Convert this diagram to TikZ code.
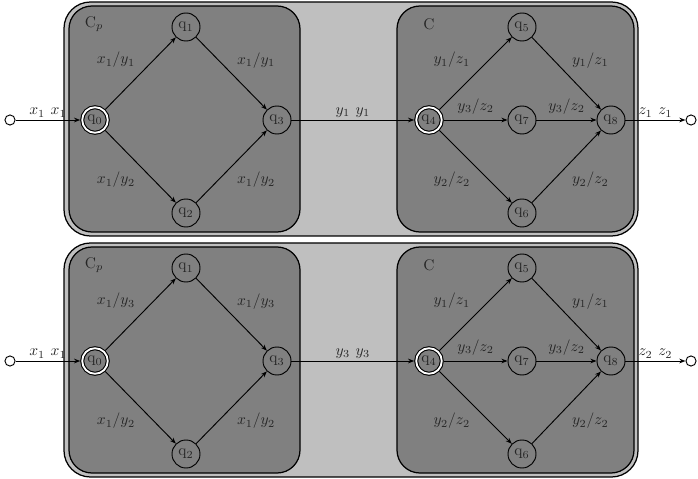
\documentclass[tikz,border=0pt]{standalone}
\usetikzlibrary{positioning,arrows.meta}

\begin{document}
\begin{tikzpicture}[
	x=0.0227cm, y=-0.0227cm,
	panel/.style={
		draw,
		thick,
		fill=black!25,
		rounded corners=0.6cm
	},
	box/.style={
		draw,
		thick,
		fill=black!50,
		rounded corners=0.52cm
	},
	stnode/.style={
		circle,
		draw,
		semithick,
		fill=black!50,
		minimum size=0.636cm,
		inner sep=0pt,
		text=black!85
	},
	initnode/.style={
		stnode,
		line width=0.7pt,
		double=white,
		double distance=1.2pt,
		minimum size=0.58cm,
		outer sep=1.3pt
	},
	endpoint/.style={circle,draw,semithick,fill=white,minimum size=0.23cm,inner sep=0pt},
	lbl/.style={text=black!85},
	iolbl/.style={text=black!85,inner sep=1.5pt},
	arrow/.style={-{Stealth[length=4pt,width=3pt]},semithick}
	]
	
	\useasboundingbox (0,0) rectangle (698,479);
	
	% upper composition
	\draw[panel] (64,2) rectangle (638,236);
	\draw[box] (69,6) rectangle (300,232);
	\draw[box] (397,6) rectangle (634,232);
	\node[lbl] (cpa) at (94,24) {$\mathrm{C}_p$};
	\node[lbl] (ca) at (429,24) {$\mathrm{C}$};
	
	\node[endpoint] (ina) at (10,120) {};
	\node[initnode] (q0a) at (95,120) {$\mathrm{q}_0$};
	\node[stnode] (q1a) at (186,27) {$\mathrm{q}_1$};
	\node[stnode] (q2a) at (186,213) {$\mathrm{q}_2$};
	\node[stnode] (q3a) at (277,120) {$\mathrm{q}_3$};
	\node[initnode] (q4a) at (429,120) {$\mathrm{q}_4$};
	\node[stnode] (q5a) at (522,27) {$\mathrm{q}_5$};
	\node[stnode] (q6a) at (522,213) {$\mathrm{q}_6$};
	\node[stnode] (q7a) at (522,120) {$\mathrm{q}_7$};
	\node[stnode] (q8a) at (611,120) {$\mathrm{q}_8$};
	\node[endpoint] (outa) at (691,120) {};
	
	\draw[arrow] (ina)--node[iolbl,above left] {$x_1$} node[iolbl,above right] {$x_1$} (q0a);
	\draw[arrow] (q0a)--node[lbl,above left] {$x_1/y_1$} (q1a);
	\draw[arrow] (q0a)--node[lbl,below left] {$x_1/y_2$} (q2a);
	\draw[arrow] (q1a)--node[lbl,above right] {$x_1/y_1$} (q3a);
	\draw[arrow] (q2a)--node[lbl,below right] {$x_1/y_2$} (q3a);
	\draw[arrow] (q3a)--node[iolbl,above left] {$y_1$} node[iolbl,above right] {$y_1$} (q4a);
	\draw[arrow] (q4a)--node[lbl,above left] {$y_1/z_1$} (q5a);
	\draw[arrow] (q4a)--node[lbl,above] {$y_3/z_2$} (q7a);
	\draw[arrow] (q4a)--node[lbl,below left] {$y_2/z_2$} (q6a);
	\draw[arrow] (q5a)--node[lbl,above right] {$y_1/z_1$} (q8a);
	\draw[arrow] (q7a)--node[lbl,above] {$y_3/z_2$} (q8a);
	\draw[arrow] (q6a)--node[lbl,below right] {$y_2/z_2$} (q8a);
	\draw[arrow] (q8a)--node[iolbl,above left] {$z_1$} node[iolbl,above right] {$z_1$} (outa);
	
	% lower composition
	\begin{scope}[shift={(0,241)}]
		\draw[panel] (64,2) rectangle (638,236);
		\draw[box] (69,6) rectangle (300,232);
		\draw[box] (397,6) rectangle (634,232);
		\node[lbl] (cpb) at (94,24) {$\mathrm{C}_p$};
		\node[lbl] (cb) at (429,24) {$\mathrm{C}$};
		
		\node[endpoint] (inb) at (10,120) {};
		\node[initnode] (q0b) at (95,120) {$\mathrm{q}_0$};
		\node[stnode] (q1b) at (186,27) {$\mathrm{q}_1$};
		\node[stnode] (q2b) at (186,213) {$\mathrm{q}_2$};
		\node[stnode] (q3b) at (277,120) {$\mathrm{q}_3$};
		\node[initnode] (q4b) at (429,120) {$\mathrm{q}_4$};
		\node[stnode] (q5b) at (522,27) {$\mathrm{q}_5$};
		\node[stnode] (q6b) at (522,213) {$\mathrm{q}_6$};
		\node[stnode] (q7b) at (522,120) {$\mathrm{q}_7$};
		\node[stnode] (q8b) at (611,120) {$\mathrm{q}_8$};
		\node[endpoint] (outb) at (691,120) {};
		
		\draw[arrow] (inb)--node[iolbl,above left] {$x_1$} node[iolbl,above right] {$x_1$} (q0b);
		\draw[arrow] (q0b)--node[lbl,above left] {$x_1/y_3$} (q1b);
		\draw[arrow] (q0b)--node[lbl,below left] {$x_1/y_2$} (q2b);
		\draw[arrow] (q1b)--node[lbl,above right] {$x_1/y_3$} (q3b);
		\draw[arrow] (q2b)--node[lbl,below right] {$x_1/y_2$} (q3b);
		\draw[arrow] (q3b)--node[iolbl,above left] {$y_3$} node[iolbl,above right] {$y_3$} (q4b);
		\draw[arrow] (q4b)--node[lbl,above left] {$y_1/z_1$} (q5b);
		\draw[arrow] (q4b)--node[lbl,above] {$y_3/z_2$} (q7b);
		\draw[arrow] (q4b)--node[lbl,below left] {$y_2/z_2$} (q6b);
		\draw[arrow] (q5b)--node[lbl,above right] {$y_1/z_1$} (q8b);
		\draw[arrow] (q7b)--node[lbl,above] {$y_3/z_2$} (q8b);
		\draw[arrow] (q6b)--node[lbl,below right] {$y_2/z_2$} (q8b);
		\draw[arrow] (q8b)--node[iolbl,above left] {$z_2$} node[iolbl,above right] {$z_2$} (outb);
	\end{scope}
	
\end{tikzpicture}
\end{document}
